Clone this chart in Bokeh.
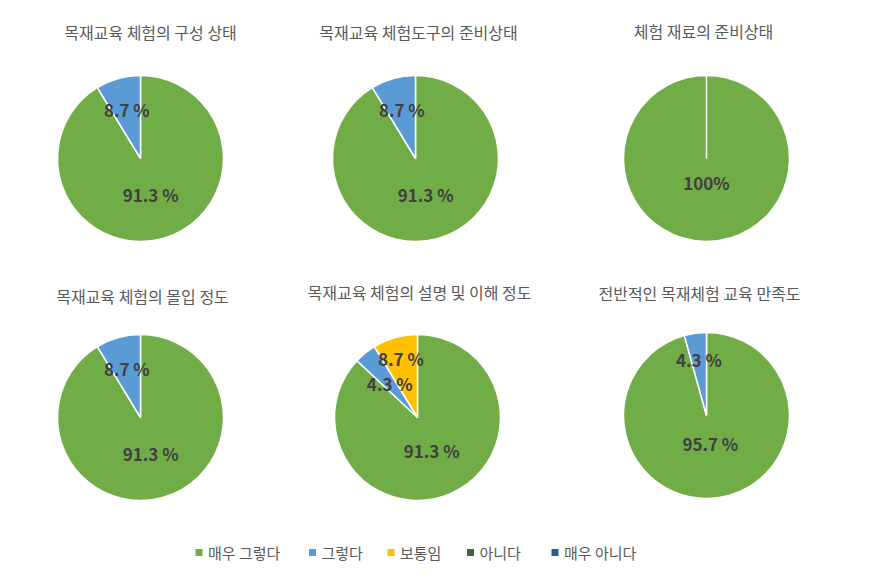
import math
from bokeh.plotting import figure
from bokeh.models import ColumnDataSource, Range1d
from bokeh.core.properties import value
from bokeh.embed import file_html
from bokeh.resources import INLINE

# answer categories (legend order = slice order, clockwise from 12 o'clock)
series = ["매우 그렇다", "그렇다", "보통임", "아니다", "매우 아니다"]
colors = ["#70AD47", "#5B9BD5", "#FFC000", "#43682B", "#255E91"]

titles = [
    "목재교육 체험의 구성 상태",
    "목재교육 체험도구의 준비상태",
    "체험 재료의 준비상태",
    "목재교육 체험의 몰입 정도",
    "목재교육 체험의 설명 및 이해 정도",
    "전반적인 목재체험 교육 만족도",
]

# slice sizes (%) per chart, in series order
pie1 = [91.3, 8.7, 0, 0, 0]
pie2 = [91.3, 8.7, 0, 0, 0]
pie3 = [100.0, 0, 0, 0, 0]
pie4 = [91.3, 8.7, 0, 0, 0]
pie5 = [87.0, 4.3, 8.7, 0, 0]
pie6 = [95.7, 4.3, 0, 0, 0]

# data labels as printed on the slices
labels1 = ["91.3 %", "8.7 %", "", "", ""]
labels2 = ["91.3 %", "8.7 %", "", "", ""]
labels3 = ["100%", "", "", "", ""]
labels4 = ["91.3 %", "8.7 %", "", "", ""]
labels5 = ["91.3 %", "4.3 %", "8.7 %", "", ""]
labels6 = ["95.7 %", "4.3 %", "", "", ""]

pies = [pie1, pie2, pie3, pie4, pie5, pie6]
pie_labels = [labels1, labels2, labels3, labels4, labels5, labels6]

# ---- layout (screenshot pixels, origin top-left) ----
W, H = 864, 567
R = 83
centers = [(140, 158), (415, 158), (706, 158), (140, 417), (417, 417), (706, 415)]
title_pos = [(150, 31), (418, 31), (703, 30), (142, 295), (419, 291), (699, 292)]
# radial position of each label as a fraction of the radius
label_r = [[0.45, 0.61], [0.45, 0.61], [0.29], [0.45, 0.61], [0.43, 0.53, 0.74], [0.34, 0.68]]
legend_sq_x = [198.5, 312, 390.5, 470, 554.5]
legend_y = 552


def fx(x):
    return x


def fy(y):
    return H - y


p = figure(width=W, height=H, x_range=Range1d(0, W), y_range=Range1d(0, H),
           output_backend="svg", toolbar_location=None,
           x_axis_type=None, y_axis_type=None, min_border=0)
p.grid.visible = False
p.outline_line_color = None
p.background_fill_color = "white"

FONT = value("Noto Sans CJK KR")

# wedges
wx, wy, ws, we, wc = [], [], [], [], []
lx, ly, lt = [], [], []
for i, vals in enumerate(pies):
    cx, cy = centers[i]
    total = float(sum(vals))
    cum = 0.0
    k = 0
    for j, v in enumerate(vals):
        if v <= 0:
            continue
        f0 = cum / total
        f1 = (cum + v) / total
        start = math.pi / 2 - 2 * math.pi * f0
        end = math.pi / 2 - 2 * math.pi * f1
        if f1 - f0 >= 0.99999:
            end = start - 2 * math.pi + 1e-4
        wx.append(fx(cx))
        wy.append(fy(cy))
        ws.append(start)
        we.append(end)
        wc.append(colors[j])
        txt = pie_labels[i][j]
        if txt:
            mid = math.pi / 2 - 2 * math.pi * (f0 + f1) / 2
            rr = label_r[i][k] * R
            lx.append(fx(cx) + rr * math.cos(mid))
            ly.append(fy(cy) + rr * math.sin(mid))
            lt.append(txt)
        k += 1
        cum += v

wsrc = ColumnDataSource(dict(x=wx, y=wy, start=ws, end=we, color=wc))
p.wedge(x="x", y="y", radius=R, start_angle="start", end_angle="end",
        direction="clock", fill_color="color", line_color="white",
        line_width=1.5, source=wsrc)

lsrc = ColumnDataSource(dict(x=lx, y=ly, text=lt))
p.text(x="x", y="y", text="text", source=lsrc, text_align="center",
       text_baseline="middle", text_font=FONT, text_font_style="bold",
       text_font_size="17px", text_color="#404040")

# titles
tsrc = ColumnDataSource(dict(x=[fx(t[0]) for t in title_pos],
                             y=[fy(t[1]) for t in title_pos], text=titles))
p.text(x="x", y="y", text="text", source=tsrc, text_align="center",
       text_baseline="middle", text_font=FONT, text_font_size="16px",
       text_color="#595959")

# legend
gsrc = ColumnDataSource(dict(x=[fx(x) for x in legend_sq_x],
                             y=[fy(legend_y)] * len(series),
                             tx=[fx(x) + 9 for x in legend_sq_x],
                             text=series, color=colors))
p.scatter(x="x", y="y", marker="square", size=7, fill_color="color",
          line_color=None, source=gsrc)
p.text(x="tx", y="y", text="text", source=gsrc, text_align="left",
       text_baseline="middle", text_font=FONT, text_font_size="15px",
       text_color="#595959")

open("out.html", "w").write(file_html(p, INLINE))
